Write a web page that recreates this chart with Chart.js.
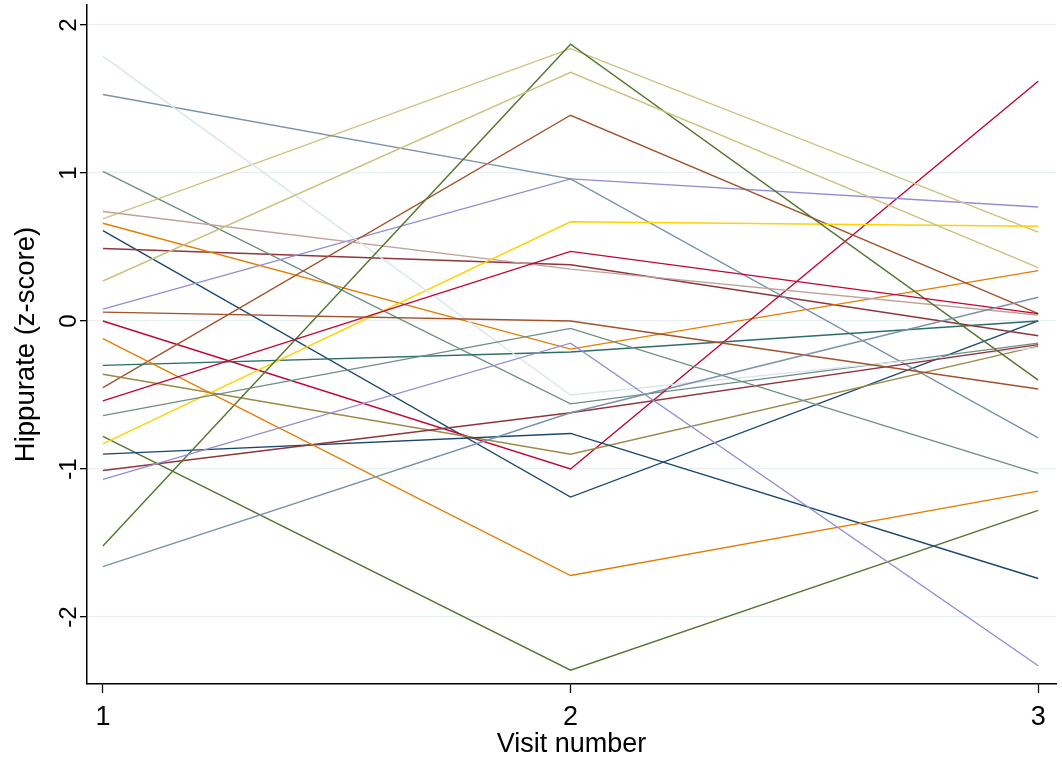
<!DOCTYPE html>
<html>
<head>
<meta charset="utf-8">
<title>Hippurate by visit</title>
<script src="https://cdn.jsdelivr.net/npm/chart.js@4.4.1/dist/chart.umd.min.js"></script>
<style>
  html, body { margin: 0; padding: 0; background: #ffffff; }
  #wrap { width: 1062px; height: 762px; position: relative; }
</style>
</head>
<body>
<div id="wrap"><canvas id="chart"></canvas></div>
<script>
// Visit numbers on the x axis and tick values on both axes
const visits = [1, 2, 3];
const visitTicks = [1, 2, 3];
const zTicks = [-2, -1, 0, 1, 2];

// Hippurate z-score of each subject at visits 1, 2 and 3
const subj01 = [0.61, -1.19, 0.00];
const subj02 = [0.49, 0.38, -0.10];
const subj03 = [-0.78, -2.36, -1.28];
const subj04 = [0.66, -0.19, 0.34];
const subj05 = [1.01, -0.56, -0.15];
const subj06 = [0.00, -1.00, 1.62];
const subj07 = [0.08, 0.96, 0.77];
const subj08 = [0.69, 1.84, 0.60];
const subj09 = [-0.45, 1.39, 0.05];
const subj10 = [1.53, 0.96, -0.79];
const subj11 = [-0.30, -0.21, 0.00];
const subj12 = [-0.36, -0.90, -0.17];
const subj13 = [0.74, 0.35, 0.04];
const subj14 = [-0.83, 0.67, 0.64];
const subj15 = [1.79, -0.50, -0.18];
const subj16 = [-0.90, -0.76, -1.74];
const subj17 = [-1.01, -0.62, -0.16];
const subj18 = [-1.52, 1.87, -0.40];
const subj19 = [-0.12, -1.72, -1.15];
const subj20 = [-0.64, -0.05, -1.03];
const subj21 = [-0.54, 0.47, 0.05];
const subj22 = [-1.07, -0.15, -2.33];
const subj23 = [0.27, 1.68, 0.36];
const subj24 = [0.06, 0.00, -0.46];
const subj25 = [-1.66, -0.62, 0.16];

const subjects = [subj01, subj02, subj03, subj04, subj05, subj06, subj07, subj08, subj09, subj10,
                  subj11, subj12, subj13, subj14, subj15, subj16, subj17, subj18, subj19, subj20,
                  subj21, subj22, subj23, subj24, subj25];

// Line colours, cycled in order (navy, maroon, forest green, dark orange, teal, cranberry,
// lavender, khaki, sienna, mid blue, emerald, brown, rose, gold, bluish gray)
const palette = ['#1a476f', '#90353b', '#55752f', '#e37e00', '#6e8e84', '#c10534', '#938dd2',
                 '#cac27e', '#a0522d', '#7b92a8', '#2d6d66', '#9c8847', '#bfa19c', '#ffd200', '#d9e6eb'];

const datasets = subjects.map((vals, i) => ({
  label: 'Subject ' + (i + 1),
  data: vals.map((v, k) => ({ x: visits[k], y: v })),
  borderColor: palette[i % palette.length],
  borderWidth: 1.4,
  pointRadius: 0,
  tension: 0,
  fill: false,
  order: subjects.length - i
}));

const textFont = "'Liberation Sans', Arial, sans-serif";
const gridColor = '#e8f0f3';

new Chart(document.getElementById('chart'), {
  type: 'line',
  data: { datasets },
  options: {
    responsive: true,
    maintainAspectRatio: false,
    animation: false,
    layout: { padding: { top: 5, right: 6, left: 0, bottom: 0 } },
    plugins: { legend: { display: false }, tooltip: { enabled: false } },
    scales: {
      x: {
        type: 'linear',
        min: 0.966,
        max: 3.038,
        afterBuildTicks: (scale) => { scale.ticks = visitTicks.map(v => ({ value: v })); },
        afterFit: (scale) => { scale.height = 78; scale.paddingLeft = 0; scale.paddingRight = 0; },
        grid: { drawOnChartArea: false, drawTicks: true, tickLength: 9, tickColor: '#000', tickWidth: 1.3 },
        border: { display: true, color: '#000', width: 1.5 },
        ticks: {
          color: '#000',
          font: { family: textFont, size: 27 },
          padding: 8,
          maxRotation: 0,
          callback: (v) => String(v)
        },
        title: {
          display: true,
          text: 'Visit number',
          color: '#000',
          font: { family: textFont, size: 27 },
          padding: { top: 0, bottom: 1 }
        }
      },
      y: {
        type: 'linear',
        min: -2.453,
        max: 2.135,
        afterBuildTicks: (scale) => { scale.ticks = zTicks.map(v => ({ value: v })); },
        afterFit: (scale) => { scale.width = 87; scale.paddingTop = 0; scale.paddingBottom = 0; },
        grid: { color: gridColor, lineWidth: 1.3, drawTicks: true, tickLength: 7, tickColor: '#000', tickWidth: 1.3 },
        border: { display: true, color: '#000', width: 1.5 },
        ticks: {
          color: '#000',
          font: { family: textFont, size: 24 },
          padding: 0,
          minRotation: 90,
          maxRotation: 90,
          align: 'center',
          crossAlign: 'center',
          callback: (v) => String(v)
        },
        title: {
          display: true,
          text: 'Hippurate (z-score)',
          color: '#000',
          font: { family: textFont, size: 27.5 },
          padding: { top: 10, bottom: 0 }
        }
      }
    }
  }
});
</script>
</body>
</html>
